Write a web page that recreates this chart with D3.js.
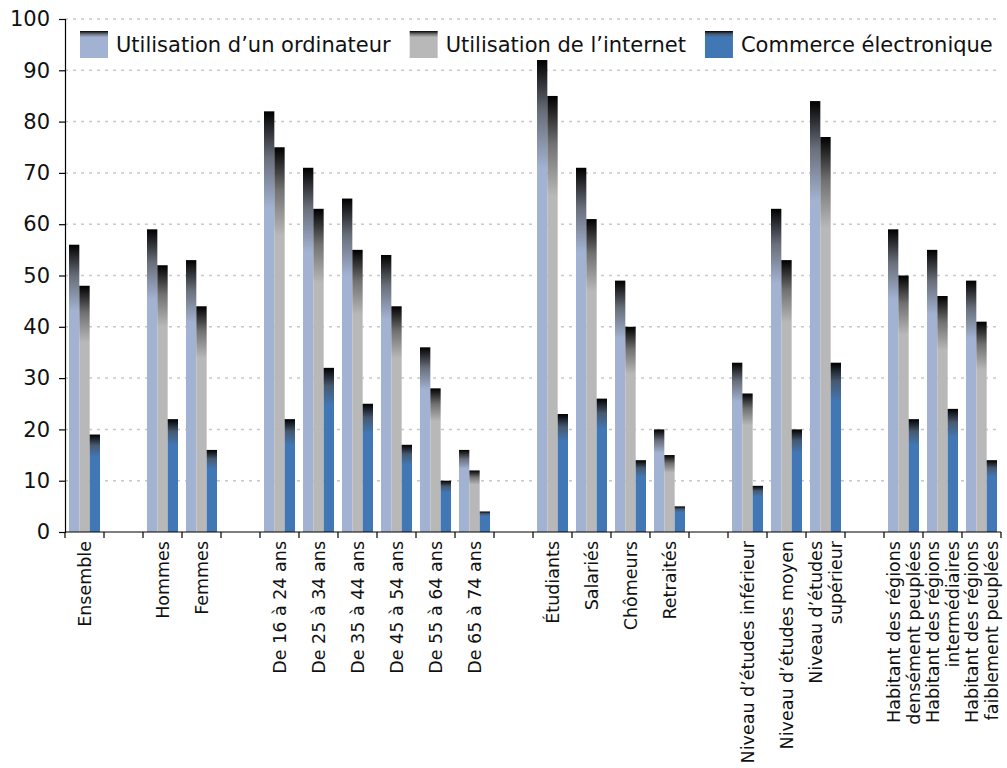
<!DOCTYPE html>
<html>
<head>
<meta charset="utf-8">
<script src="https://cdn.jsdelivr.net/npm/d3@7"></script>
<style>
  body { margin: 0; background: #fff; }
  text { font-family: "DejaVu Sans", Verdana, sans-serif; fill: #111; }
</style>
</head>
<body>
<script>
// slots, "" = gap between groups
const categories = ["Ensemble", "", "Hommes", "Femmes", "",
  "De 16 à 24 ans", "De 25 à 34 ans", "De 35 à 44 ans", "De 45 à 54 ans", "De 55 à 64 ans", "De 65 à 74 ans", "",
  "Étudiants", "Salariés", "Chômeurs", "Retraités", "",
  "Niveau d’études inférieur", "Niveau d’études moyen", "Niveau d’études\nsupérieur", "",
  "Habitant des régions\ndensément peuplées", "Habitant des régions\nintermédiaires", "Habitant des régions\nfaiblement peuplées"]

const seriesNames = ["Utilisation d’un ordinateur", "Utilisation de l’internet", "Commerce électronique"]
const seriesColors = ["#a2b2d2", "#b8b8b8", "#4277b5"]

const ordinateur = [56, null, 59, 53, null, 82, 71, 65, 54, 36, 16, null, 92, 71, 49, 20, null, 33, 63, 84, null, 59, 55, 49]
const internet   = [48, null, 52, 44, null, 75, 63, 55, 44, 28, 12, null, 85, 61, 40, 15, null, 27, 53, 77, null, 50, 46, 41]
const commerce   = [19, null, 22, 16, null, 22, 32, 25, 17, 10,  4, null, 23, 26, 14,  5, null,  9, 20, 33, null, 22, 24, 14]

const yTicks = [0, 10, 20, 30, 40, 50, 60, 70, 80, 90, 100]

var width = 1007
var height = 768
var plotLeft = 65, plotRight = 1001, plotTop = 19, plotBottom = 532

var svg = d3.select("body").append("svg")
  .attr("width", width)
  .attr("height", height)

// gradients: black at the top fading into the series colour
var defs = svg.append("defs")
seriesColors.forEach(function(c, i) {
  var g = defs.append("linearGradient")
    .attr("id", "grad" + i)
    .attr("x1", 0).attr("y1", 0).attr("x2", 0).attr("y2", 1)
  g.append("stop").attr("offset", 0).attr("stop-color", "#000")
  g.append("stop").attr("offset", 0.11).attr("stop-color", d3.interpolateRgb("#000", d3.interpolateRgb("#8a8a8a", c)(0.5))(0.7))
  g.append("stop").attr("offset", 0.23).attr("stop-color", c)
  g.append("stop").attr("offset", 1).attr("stop-color", c)
})

var x0 = d3.scaleBand()
  .domain(d3.range(categories.length))
  .range([plotLeft, plotRight])
  .padding(0)

var x1 = d3.scaleBand()
  .domain(d3.range(seriesNames.length))
  .range([4, x0.bandwidth() - 4])

var y = d3.scaleLinear()
  .domain([0, 100])
  .range([plotBottom, plotTop])

// grid
svg.append("g")
  .selectAll("line")
  .data(yTicks.filter(d => d > 0))
  .enter()
  .append("line")
  .attr("x1", plotLeft)
  .attr("x2", plotRight)
  .attr("y1", d => y(d))
  .attr("y2", d => y(d))
  .attr("stroke", "#c8c8c8")
  .attr("stroke-width", 1.5)
  .attr("stroke-dasharray", "3,5")

// bars
var allSeries = [ordinateur, internet, commerce]
var rows = []
allSeries.forEach(function(vals, s) {
  vals.forEach(function(v, i) {
    if (v != null) rows.push({ slot: i, s: s, v: v })
  })
})

svg.append("g")
  .selectAll("rect")
  .data(rows)
  .enter()
  .append("rect")
  .attr("x", d => x0(d.slot) + x1(d.s))
  .attr("width", x1.bandwidth())
  .attr("y", d => y(d.v))
  .attr("height", d => y(0) - y(d.v))
  .attr("fill", d => "url(#grad" + d.s + ")")

// y axis
var yAxis = svg.append("g")
  .attr("transform", "translate(" + plotLeft + ",0)")
  .call(d3.axisLeft(y).tickValues(yTicks).tickSize(6).tickPadding(9))
yAxis.select(".domain").attr("stroke", "#000").attr("stroke-width", 1.2)
yAxis.selectAll(".tick line").attr("stroke", "#000").attr("stroke-width", 1.2)
yAxis.selectAll("text")
  .style("font-family", "'DejaVu Sans', Verdana, sans-serif")
  .style("font-size", "21px")
  .attr("fill", "#111")

// x axis
var xg = svg.append("g")
xg.append("line")
  .attr("x1", plotLeft).attr("x2", plotRight)
  .attr("y1", plotBottom).attr("y2", plotBottom)
  .attr("stroke", "#000").attr("stroke-width", 1.2)
xg.selectAll(".tk")
  .data(d3.range(categories.length + 1))
  .enter()
  .append("line")
  .attr("x1", d => plotLeft + d * x0.step())
  .attr("x2", d => plotLeft + d * x0.step())
  .attr("y1", plotBottom)
  .attr("y2", plotBottom + 6)
  .attr("stroke", "#000").attr("stroke-width", 1.2)

var lineH = 20
categories.forEach(function(label, i) {
  if (!label) return
  var lines = label.split("\n")
  var cx = x0(i) + x0.bandwidth() / 2
  var t = svg.append("text")
    .attr("transform", "translate(" + cx + "," + (plotBottom + 9) + ")rotate(-90)")
    .attr("text-anchor", "end")
    .style("font-size", "17.5px")
  lines.forEach(function(l, k) {
    t.append("tspan")
      .attr("x", 0)
      .attr("y", (k - (lines.length - 1) / 2) * lineH)
      .attr("dy", "0.35em")
      .text(l)
  })
})

// legend
var legend = svg.append("g")
var lx = 80
seriesNames.forEach(function(name, i) {
  var item = legend.append("g").attr("transform", "translate(" + lx + ",31)")
  item.append("rect")
    .attr("width", 28)
    .attr("height", 27)
    .attr("fill", "url(#grad" + i + ")")
  var t = item.append("text")
    .attr("x", 36)
    .attr("y", 21)
    .style("font-size", "21px")
    .text(name)
  lx += 36 + t.node().getComputedTextLength() + 19
})
</script>
</body>
</html>
